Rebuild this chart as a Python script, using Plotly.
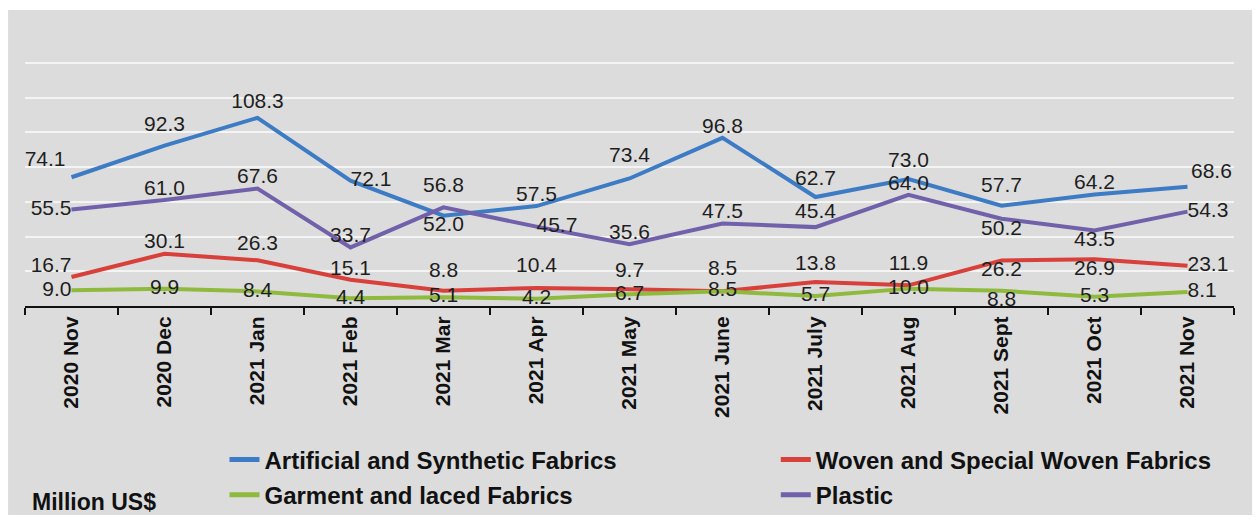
import plotly.graph_objects as go

# monthly exports, Million US$
months = ["2020 Nov", "2020 Dec", "2021 Jan", "2021 Feb", "2021 Mar", "2021 Apr", "2021 May",
          "2021 June", "2021 July", "2021 Aug", "2021 Sept", "2021 Oct", "2021 Nov"]

artificial = [74.1, 92.3, 108.3, 72.1, 52.0, 57.5, 73.4, 96.8, 62.7, 73.0, 57.7, 64.2, 68.6]
woven = [16.7, 30.1, 26.3, 15.1, 8.8, 10.4, 9.7, 8.5, 13.8, 11.9, 26.2, 26.9, 23.1]
garment = [9.0, 9.9, 8.4, 4.4, 5.1, 4.2, 6.7, 8.5, 5.7, 10.0, 8.8, 5.3, 8.1]
plastic = [55.5, 61.0, 67.6, 33.7, 56.8, 45.7, 35.6, 47.5, 45.4, 64.0, 50.2, 43.5, 54.3]

# where each data label sits relative to its point
artificial_pos = ["top left", "top center", "top center", "middle right", "bottom center",
                  "top center", "top center", "top center", "top center", "top center",
                  "top center", "top center", "top right"]
woven_pos = ["top left", "top center", "top center", "top center", "top center", "top center",
             "top center", "top center", "top center", "top center", "bottom center",
             "bottom center", "middle right"]
garment_pos = ["middle left", "middle center", "middle center", "middle center", "middle center",
               "middle center", "middle center", "middle center", "middle center", "middle center",
               "bottom center", "middle center", "middle right"]
plastic_pos = ["middle left", "top center", "top center", "top center", "top center",
               "middle right", "top center", "top center", "top center", "top center",
               "bottom center", "bottom center", "middle right"]

# invisible marker sizes, used only to push labels further from the line
artificial_gap = [8, 14, 6, 0, 0, 0, 16, 0, 10, 10, 12, 0, 4]
woven_gap = [0, 0, 6, 0, 12, 16, 10, 16, 10, 14, 0, 0, 0]
garment_gap = [0] * 13
plastic_gap = [0, 0, 0, 0, 14, 0, 0, 0, 4, 0, 0, 0, 0]

FONT = "Liberation Sans, Arial, sans-serif"
BG = "#dcdcdc"

series = [
    ("Artificial and Synthetic Fabrics", artificial, artificial_pos, artificial_gap, "#3d7cc4", "legend"),
    ("Woven and Special Woven Fabrics", woven, woven_pos, woven_gap, "#d8413b", "legend2"),
    ("Garment and laced Fabrics", garment, garment_pos, garment_gap, "#8fba3e", "legend3"),
    ("Plastic", plastic, plastic_pos, plastic_gap, "#7160aa", "legend4"),
]

fig = go.Figure()
for name, vals, pos, gap, color, leg in series:
    fig.add_trace(go.Scatter(
        x=months,
        y=vals,
        name=name,
        mode="lines+markers+text",
        text=[f"{v:.1f}" for v in vals],
        textposition=pos,
        textfont=dict(family=FONT, size=21, color="#1e1e1e"),
        line=dict(color=color, width=4),
        marker=dict(size=gap, color="rgba(0,0,0,0)", line=dict(width=0)),
        cliponaxis=False,
        showlegend=True,
        legend=leg,
    ))

legend_style = dict(
    orientation="h",
    xanchor="left",
    yanchor="middle",
    bgcolor="rgba(0,0,0,0)",
    itemsizing="constant",
    font=dict(family=FONT, size=24, color="#111111", weight="bold"),
)

fig.update_layout(
    width=1259,
    height=522,
    margin=dict(l=25, r=25, t=28, b=216, autoexpand=False),
    showlegend=True,
    paper_bgcolor="white",
    plot_bgcolor=BG,
    legend=dict(x=0.165, y=-0.554, **legend_style),
    legend2=dict(x=0.621, y=-0.554, **legend_style),
    legend3=dict(x=0.165, y=-0.680, **legend_style),
    legend4=dict(x=0.621, y=-0.680, **legend_style),
    xaxis=dict(
        type="category",
        range=[-0.5, 12.5],
        showgrid=False,
        showline=True,
        linecolor="#111111",
        linewidth=2,
        ticks="outside",
        tickson="boundaries",
        ticklen=7,
        tickwidth=2,
        tickcolor="#111111",
        tickangle=-90,
        tickfont=dict(family=FONT, size=21, color="#111111", weight="bold"),
    ),
    yaxis=dict(
        range=[0, 160],
        dtick=20,
        showgrid=True,
        gridcolor="#f4f4f4",
        gridwidth=2,
        zeroline=False,
        showticklabels=False,
        showline=False,
    ),
    shapes=[dict(
        type="rect", xref="paper", yref="paper",
        x0=-0.014, x1=1.015, y0=-0.752, y1=1.065,
        fillcolor=BG, line=dict(width=0), layer="below",
    )],
    annotations=[dict(
        text="Million US$", xref="paper", yref="paper",
        x=0.004, y=-0.705, xanchor="left", yanchor="middle",
        showarrow=False,
        font=dict(family=FONT, size=23, color="#111111", weight="bold"),
    )],
)

# drop the page's default body margin so the figure sits at the top-left corner
fig.write_html(
    "out.html",
    config={"displayModeBar": False},
    post_script="document.body.style.margin = '0';",
)
